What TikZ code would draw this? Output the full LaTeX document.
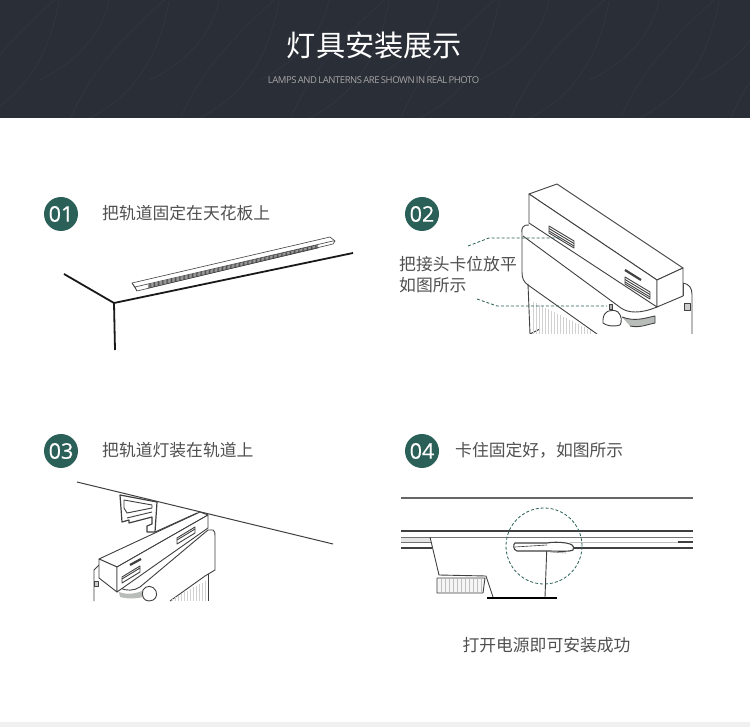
\documentclass[tikz,border=0pt]{standalone}
\usepackage{fontspec}
\setmainfont{Open Sans}
\newfontfamily\cjk{Noto Sans CJK SC}
\newfontfamily\subfont[LetterSpace=-4.5,WordSpace=0.6]{Open Sans}
\newfontfamily\badgefont[FakeBold=0.4]{Open Sans}
\usetikzlibrary{calc}
\definecolor{headbg}{HTML}{2A2E37}
\definecolor{headleaf}{HTML}{343842}
\definecolor{stepgreen}{HTML}{2A6058}
\definecolor{txtgray}{HTML}{505050}
\definecolor{linegray}{HTML}{404040}
\definecolor{levergray}{HTML}{B9BDB9}
\tikzset{
  badge/.style={circle,fill=stepgreen,text=white,minimum size=34pt,inner sep=0pt,font=\badgefont\fontsize{21.5}{22}\selectfont},
  caption/.style={text=txtgray,inner sep=0pt,anchor=west,font=\cjk\fontsize{16.8}{21}\selectfont},
  leader/.style={stepgreen,densely dashed,line width=0.8pt},
  art/.style={linegray,line width=0.9pt,line join=round},
  heavy/.style={black!90,line width=1.8pt},
  slotbox/.style={art,fill=white}
}
\begin{document}
\begin{tikzpicture}[x=1pt,y=-1pt]
  \useasboundingbox (0,0) rectangle (750,727);
  \fill[white] (0,0) rectangle (750,727);
  \fill[black!6] (0,722) rectangle (750,727);
  % header band
  \fill[headbg] (0,0) rectangle (750,118);
  \begin{scope}
    \clip (0,0) rectangle (750,118);
    \foreach \x in {-40,70,...,760} {
      \draw[headleaf,line width=0.5pt] (\x,120) .. controls (\x+20,70) and (\x+60,30) .. (\x+100,-5);
      \draw[headleaf,line width=0.5pt] (\x+15,120) .. controls (\x+60,100) and (\x+90,60) .. (\x+100,-5);
      \draw[headleaf,line width=0.5pt] (\x+40,-5) .. controls (\x+35,30) and (\x+10,60) .. (\x-30,80);
    }
  \end{scope}
  \node[text=white,inner sep=0pt,font=\cjk\fontsize{29.2}{32}\selectfont] (title) at (374.5,45) {灯具安装展示};
  \node[text=black!35,inner sep=0pt,font=\subfont\fontsize{9.5}{10}\selectfont] (subtitle) at (373.5,80) {LAMPS AND LANTERNS ARE SHOWN IN REAL PHOTO};
  % step 01
  \node[badge] (n1) at (61,214) {01};
  \node[caption] (t1) at (102,213) {把轨道固定在天花板上};
  \coordinate (c1) at (114,303);
  \coordinate (w1) at (64,274);
  \coordinate (w2) at (353,253);
  \coordinate (w3) at (115,350);
  \draw[heavy] (w1)--(c1)--(w2) (c1)--(w3);
  \draw[art,line width=0.6pt] (132,283)--(330,237)--(335,241)--(333,244)--(137,291)--cycle;
  \draw[art,line width=0.6pt] (132,283)--(135,287)--(333,241)--(335,241) (135,287)--(137,291);
  \foreach \s in {0,1,2,3} {
    \draw[linegray,line width=0.6pt] (148,{285+\s}) -- (318,{245+\s});
  }
  % step 02
  \node[badge] (n2) at (422,214) {02};
  \node[caption,align=left] (t2) at (399,275) {把接头卡位放平\\如图所示};
  \begin{scope}
    \clip (490,180) rectangle (700,334);
    % cylinder below the plate
    \draw[art] (528,284) -- (530,334) (530,334) -- (540,329);
    \foreach \x in {533,536,...,592} {
      \draw[black!18,line width=0.5pt] (\x,{302+(\x-533)*0.5}) -- (\x,334);
    }
    \draw[art] (528,285) -- (597,334);
    % plate
    \draw[art] (529,225) .. controls (523,224) and (521,229) .. (522,233) -- (522,272) .. controls (522,279) and (524,282) .. (528,285);
    \draw[art] (523,236) -- (621,308) .. controls (628,313) and (640,314) .. (657,307);
    \draw[art] (683,283) .. controls (689,284) and (692,288) .. (692,294) -- (692,334);
    \draw[art] (683,296) -- (683,283);
    % box
    \draw[art,fill=white] (529,194)--(557,184)--(683,268)--(657,280)--cycle;
    \draw[art,fill=white] (529,194)--(657,280)--(657,307)--(529,223)--cycle;
    \draw[art,fill=white] (657,280)--(683,268)--(683,296)--(657,307)--cycle;
    % slots
    \foreach \a/\b in {549/226,625/277} {
      \draw[slotbox] (\a,\b)--(\a+25,\b+15)--(\a+25,\b+22)--(\a,\b+7)--cycle;
      \draw[art] (\a,\b+2.5)--(\a+25,\b+17.5) (\a,\b+5)--(\a+25,\b+20);
    }
    \draw[linegray,line width=2.2pt] (625,270)--(641,280);
    % knob and lever
    \fill[levergray] (622,317) .. controls (635,322) and (645,318) .. (655,316) -- (655,323) .. controls (645,325) and (635,328) .. (630,326) -- cycle;
    \draw[art] (622,317) .. controls (635,322) and (645,318) .. (655,316);
    \draw[art] (630,326) .. controls (640,328) and (645,325) .. (655,323) -- (655,316);
    \draw[art,fill=white] (603,320) .. controls (603,311) and (612,308) .. (618,312) .. controls (622,316) and (622,322) .. (620,325) .. controls (615,327) and (606,326) .. (603,323) -- cycle;
    \draw[art,fill=black!30] (609,304) rectangle (612,309);
    \draw[art,fill=black!20] (684,303) rectangle (690,310);
  \end{scope}
  \coordinate (l1) at (468,246);
  \coordinate (l2) at (489,238);
  \coordinate (l3) at (560,238);
  \coordinate (l4) at (477,299);
  \coordinate (l5) at (497,306);
  \coordinate (l6) at (607,306);
  \draw[leader] (l1)--(l2)--(l3);
  \draw[leader] (l4)--(l5)--(l6);
  % step 03
  \node[badge] (n3) at (61,451) {03};
  \node[caption] (t3) at (102,450) {把轨道灯装在轨道上};
  \begin{scope}
    \clip (70,475) rectangle (340,601);
    % rail section
    \draw[art,line width=1.2pt] (120,495)--(157,502)--(155,532)--(147,532)--(147,526)--(152,524)--(152,517)--(129,523)--(129,520)--(122,522)--cycle;
    \draw[art] (124,500)--(152,505)--(152,508)--(127,513)--(124,508)--cycle;
    \draw[art] (127,518)--(152,512);
    % adaptor
    \draw[art] (94,570)--(94,601) (99,577)--(120,588) .. controls (126,591) and (134,591) .. (140,587) -- (208,530);
    \draw[art] (208,530) -- (213,530) .. controls (215,531) and (215,533) .. (215,536) -- (215,570) -- (205,576) -- (170,601);
    \draw[art] (94,570) -- (99,565);
    \draw[art,fill=white] (99,559)--(200,512)--(208,515)--(117,567)--cycle;
    \draw[art,fill=white] (99,559)--(117,567)--(117,592)--(99,578)--cycle;
    \draw[art,fill=white] (117,567)--(208,515)--(208,528)--(117,592)--cycle;
    \draw[art] (155,532)--(197,513);
    \draw[art] (208,574)--(208,601);
    \foreach \x in {172,175,...,206} {
      \draw[black!18,line width=0.5pt] (\x,{599-(\x-172)*0.55}) -- (\x,601);
    }
    \foreach \a/\b in {177/538,122/577} {
      \draw[slotbox] (\a,\b)--(\a+18,\b-11)--(\a+18,\b-5)--(\a,\b+6)--cycle;
      \draw[art] (\a,\b+2)--(\a+18,\b-9);
    }
    \draw[linegray,line width=2.2pt] (130,565)--(141,559);
    \fill[levergray] (119,592) .. controls (127,595) and (136,594) .. (144,590) -- (143,597) .. controls (135,599) and (127,599) .. (120,597) -- cycle;
    \draw[art,fill=white] (143,590) .. controls (146,585) and (153,585) .. (156,591) .. controls (158,596) and (155,601) .. (149,601) .. controls (144,601) and (141,596) .. (143,590) -- cycle;
    \draw[art,fill=black!20] (94,581) rectangle (98,586);
  \end{scope}
  \coordinate (k1) at (77,482);
  \coordinate (k2) at (333,544);
  \draw[linegray,line width=1pt] (k1)--(k2);
  % step 04
  \node[badge] (n4) at (422,451) {04};
  \node[caption] (t4) at (455,450) {卡住固定好，如图所示};
  \fill[black!10] (401,537) rectangle (430,542);
  \draw[black!60,line width=1.2pt] (401,498)--(693,498);
  \draw[linegray,line width=1.5pt] (401,531)--(693,531);
  \draw[black!55,line width=0.8pt] (401,537)--(693,537);
  \draw[black!55,line width=0.8pt] (401,542)--(431,542);
  \draw[black!25,line width=0.8pt] (570,542)--(678,542);
  \draw[linegray,line width=1.1pt] (401,548)--(432,548) (573,548)--(693,548);
  \draw[linegray,line width=1.1pt] (678,542)--(693,542);
  \draw[art] (430,537)--(439,575)--(486,576)--(493,597);
  \draw[art,fill=black!4] (437,578)--(485,578)--(483,593)--(437,593)--cycle;
  \foreach \x in {441,445,...,481} {
    \draw[black!25,line width=0.4pt] (\x,579)--(\x,592);
  }
  \draw[art] (547,543)--(545,597);
  \draw[black,line width=1.6pt] (487,598)--(557,598);
  \draw[linegray,line width=1.1pt,fill=white] (515,543)--(547,543) .. controls (552,542) and (560,542) .. (566,543) .. controls (572,544) and (575,546) .. (573,550) .. controls (570,552) and (556,551) .. (548,551) -- (517,551) .. controls (513,550) and (513,544) .. (515,543) -- cycle;
  \draw[art,line width=0.6pt] (515,547)--(547,545);
  \draw[black!45,line width=0.6pt] (550,552)--(566,553);
  \coordinate (r1) at (544,546);
  \node[circle,draw=stepgreen,densely dashed,line width=0.8pt,minimum size=76pt,inner sep=0pt] (ring) at (r1) {};
  \node[caption,anchor=center] (t5) at (546.5,645) {打开电源即可安装成功};
\end{tikzpicture}
\end{document}
